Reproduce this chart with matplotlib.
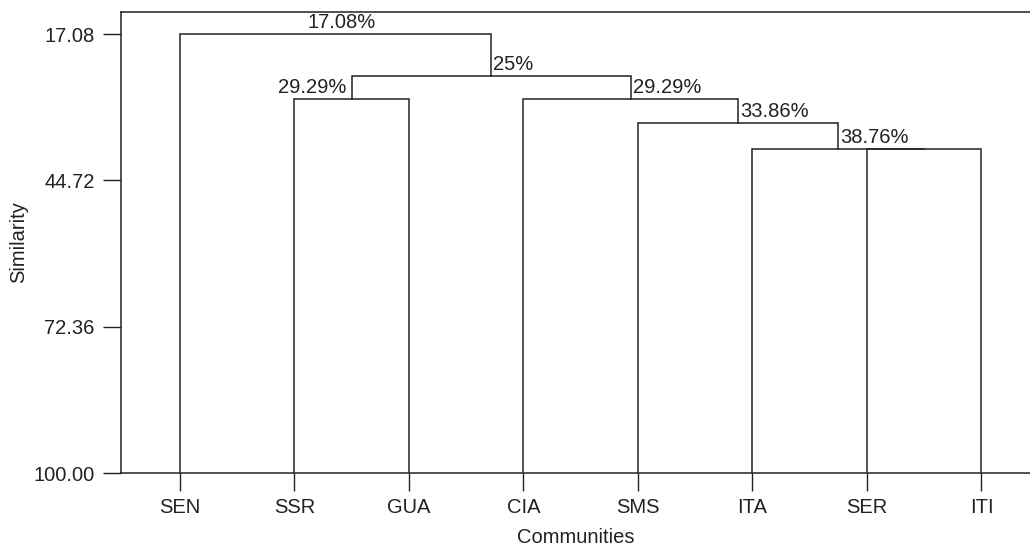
import matplotlib
matplotlib.use('Agg')
import matplotlib.pyplot as plt

plt.rcParams['font.family'] = ['Liberation Sans', 'DejaVu Sans']

# leaves in dendrogram order
leaves = ['SEN', 'SSR', 'GUA', 'CIA', 'SMS', 'ITA', 'SER', 'ITI']
# merges: (left, right, similarity); ids >= len(leaves) refer to earlier merges
merge_left = ['SER', 'ITA', 'SMS', 'CIA', 'SSR', 8 + 4, 'SEN']
merge_right = ['ITI', 8 + 0, 8 + 1, 8 + 2, 'GUA', 8 + 3, 8 + 5]
merge_height = [38.76, 38.76, 33.86, 29.29, 29.29, 25.0, 17.08]
merge_label = ['', '38.76%', '33.86%', '29.29%', '29.29%', '25%', '17.08%']
label_side = ['', 'right', 'right', 'right', 'left', 'right', 'center']

yticks = [17.08, 44.72, 72.36, 100.00]

col = '#222222'
fs = 14.5

fig = plt.figure(figsize=(10.30, 5.48), dpi=100)
ax = fig.add_axes([121 / 1030, 1 - 473 / 548, 1 - 121 / 1030, (473 - 12) / 548])

pos = {}
hgt = {}
for i, name in enumerate(leaves):
    pos[name] = i
    hgt[name] = 100.0

for m, (a, b, h) in enumerate(zip(merge_left, merge_right, merge_height)):
    xa, xb = pos[a], pos[b]
    ha_, hb_ = hgt[a], hgt[b]
    ax.plot([xa, xa, xb, xb], [ha_, h, h, hb_], color=col, lw=1.1, solid_joinstyle='miter')
    node = 8 + m
    pos[node] = (xa + xb) / 2
    hgt[node] = h
    if merge_label[m]:
        side = label_side[m]
        if side == 'right':
            ax.annotate(merge_label[m], (pos[node], h), xytext=(1.5, 1.5), textcoords='offset points',
                        ha='left', va='bottom', fontsize=fs, color=col)
        elif side == 'left':
            ax.annotate(merge_label[m], (pos[node], h), xytext=(-3.5, 1.5), textcoords='offset points',
                        ha='right', va='bottom', fontsize=fs, color=col)
        else:
            ax.annotate(merge_label[m], (pos[node], h), xytext=(4, 1.5), textcoords='offset points',
                        ha='center', va='bottom', fontsize=fs, color=col)

ax.set_xlim(-0.515, 7.424)
ax.set_ylim(100, 12.92)
ax.set_xticks(range(len(leaves)))
ax.set_xticklabels(leaves)
ax.set_yticks(yticks)
ax.set_yticklabels(['%.2f' % v for v in yticks])
ax.tick_params(axis='both', length=13, width=1.0, color=col, labelsize=fs, labelcolor=col)
ax.tick_params(axis='y', pad=6)
ax.tick_params(axis='x', pad=5)
ax.spines['right'].set_visible(False)
for s in ['left', 'top', 'bottom']:
    ax.spines[s].set_color(col)
    ax.spines[s].set_linewidth(1.1)

ax.set_xlabel('Communities', fontsize=fs, color=col, labelpad=8)
ax.set_ylabel('Similarity', fontsize=fs, color=col, labelpad=4)

fig.savefig('out.png', dpi=100)
